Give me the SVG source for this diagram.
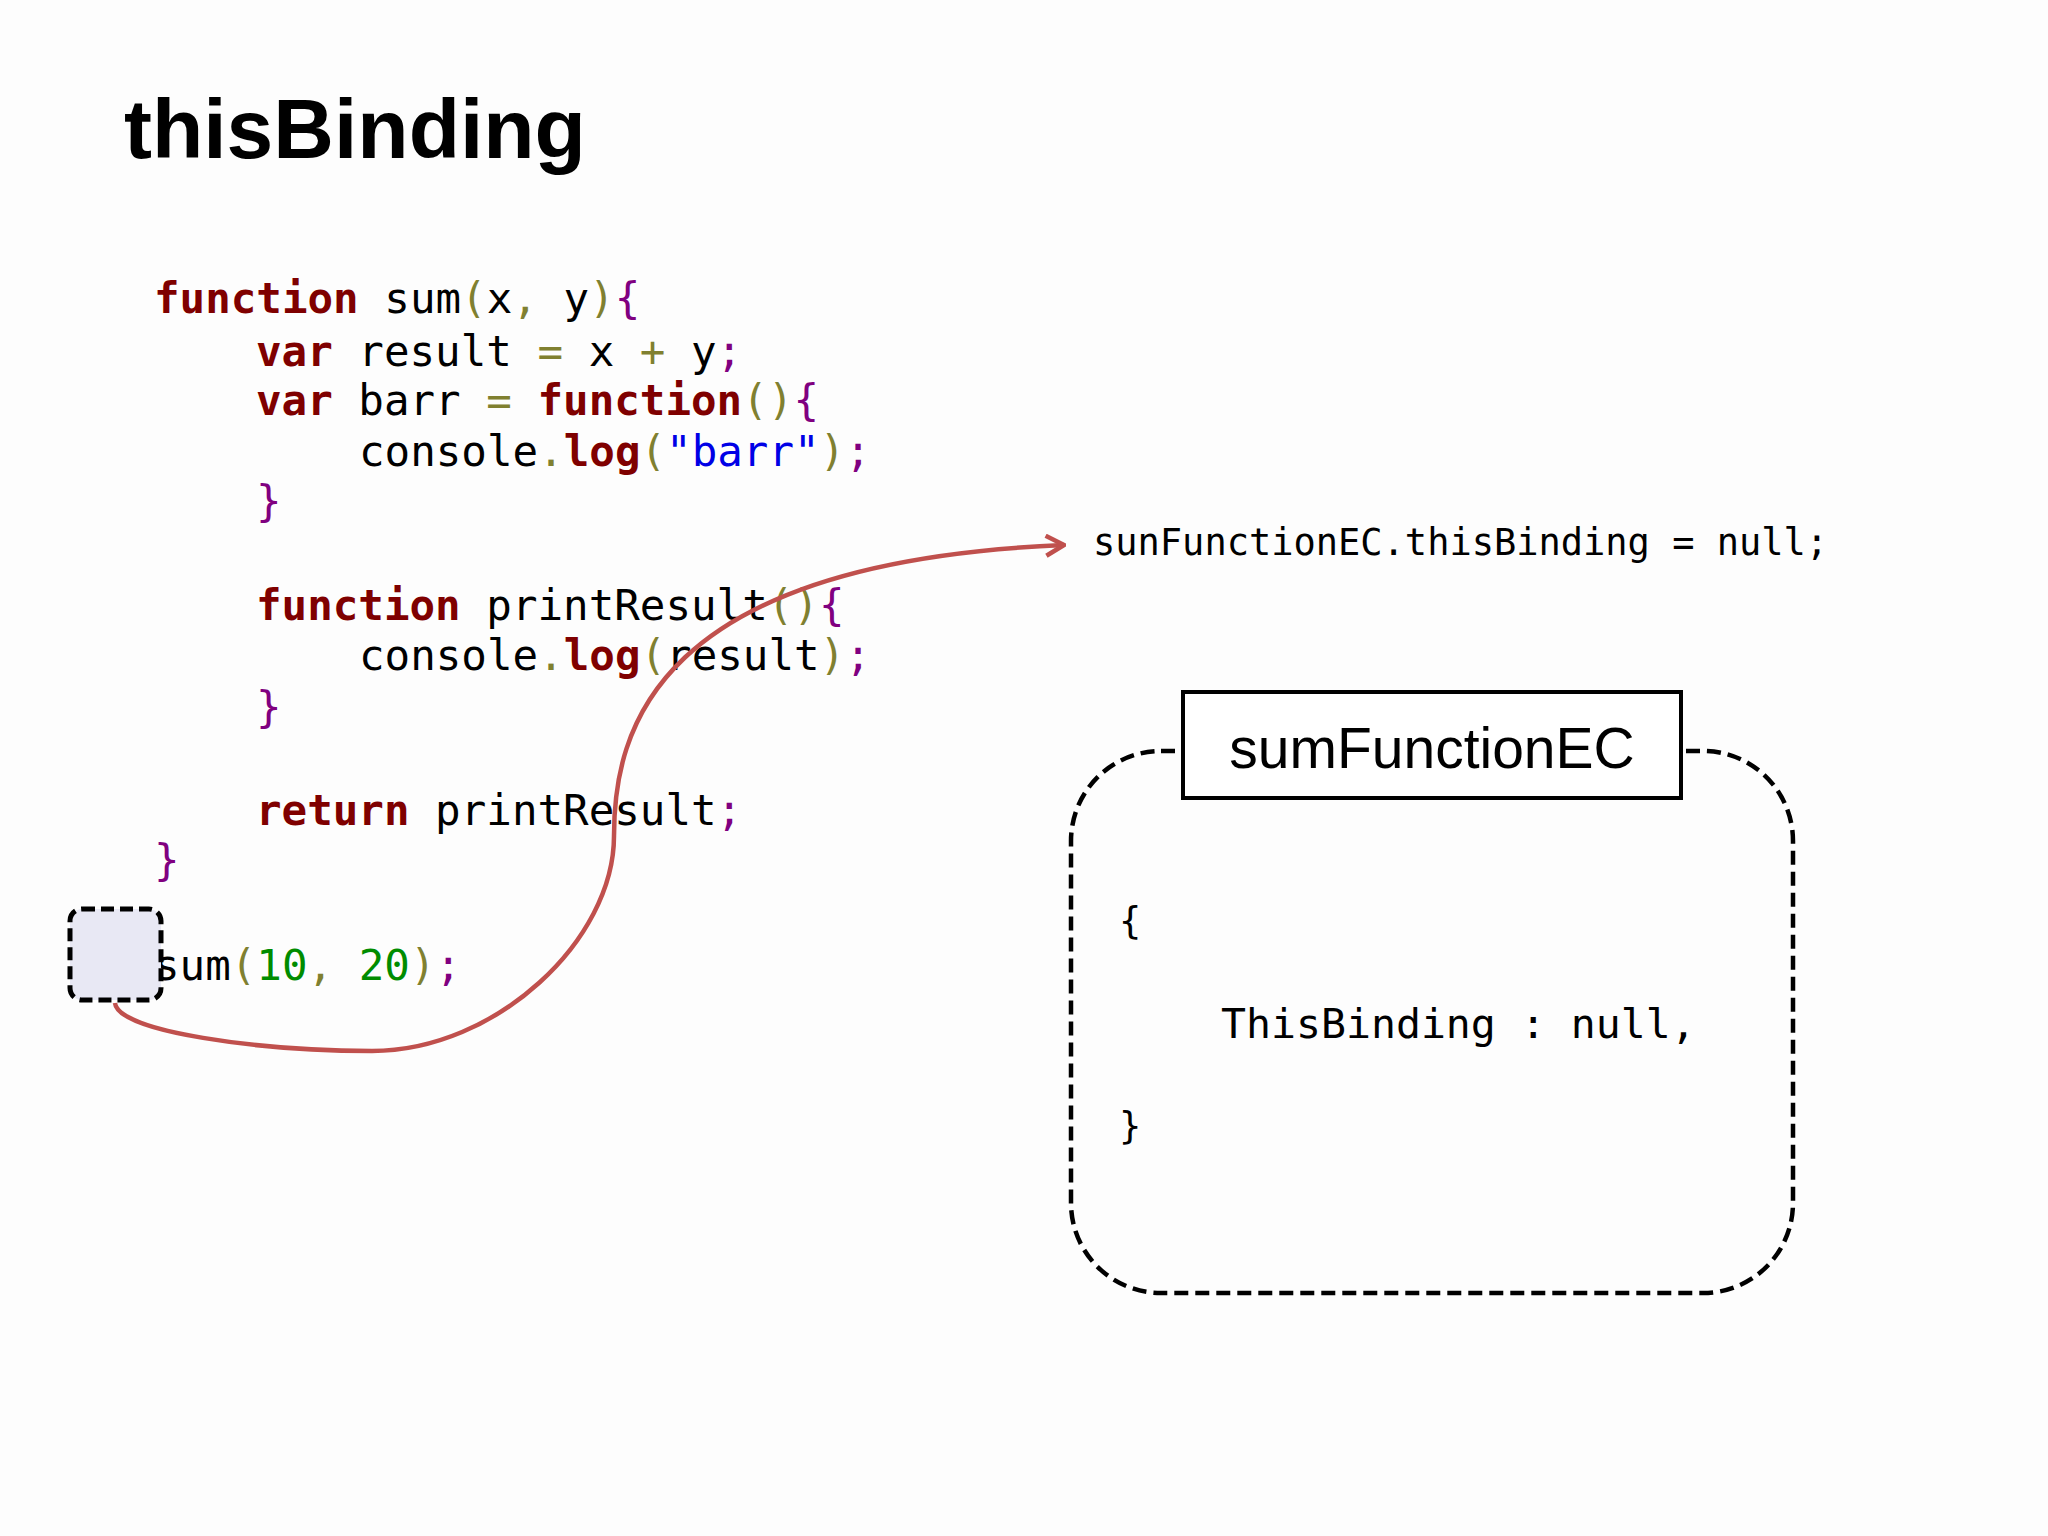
<svg xmlns="http://www.w3.org/2000/svg" width="2048" height="1536" viewBox="0 0 2048 1536">
<style>
.c{font-family:"DejaVu Sans Mono",monospace;font-size:42.5px;fill:#000;white-space:pre}
.k{fill:#7f0000;font-weight:bold}
.p{fill:#808030}
.b{fill:#800080}
.s{fill:#0000e6}
.n{fill:#008c00}
.m{font-family:"DejaVu Sans Mono",monospace;font-size:37px;fill:#000;white-space:pre}
</style>
<defs>
<marker id="ah" viewBox="-2 -2 24 24" refX="20" refY="10" markerWidth="24" markerHeight="24" orient="auto" markerUnits="userSpaceOnUse">
<path d="M2,0 L20,10 L2,20" fill="none" stroke="#c0504d" stroke-width="4.5"/>
</marker>
</defs>
<rect width="2048" height="1536" fill="#fdfdfd"/>
<text x="124" y="158" font-family="Liberation Sans,Arial,sans-serif" font-weight="bold" font-size="84">thisBinding</text>
<g id="code">
<text class="c" x="154" y="313"><tspan class="k">function</tspan> sum<tspan class="p">(</tspan>x<tspan class="p">,</tspan> y<tspan class="p">)</tspan><tspan class="b">{</tspan></text>
<text class="c" x="256" y="366"><tspan class="k">var</tspan> result <tspan class="p">=</tspan> x <tspan class="p">+</tspan> y<tspan class="b">;</tspan></text>
<text class="c" x="256" y="415"><tspan class="k">var</tspan> barr <tspan class="p">=</tspan> <tspan class="k">function</tspan><tspan class="p">()</tspan><tspan class="b">{</tspan></text>
<text class="c" x="359" y="466">console<tspan class="p">.</tspan><tspan class="k">log</tspan><tspan class="p">(</tspan><tspan class="s">"barr"</tspan><tspan class="p">)</tspan><tspan class="b">;</tspan></text>
<text class="c" x="256" y="516"><tspan class="b">}</tspan></text>
<text class="c" x="256" y="620"><tspan class="k">function</tspan> printResult<tspan class="p">()</tspan><tspan class="b">{</tspan></text>
<text class="c" x="359" y="670">console<tspan class="p">.</tspan><tspan class="k">log</tspan><tspan class="p">(</tspan>result<tspan class="p">)</tspan><tspan class="b">;</tspan></text>
<text class="c" x="256" y="722"><tspan class="b">}</tspan></text>
<text class="c" x="256" y="825"><tspan class="k">return</tspan> printResult<tspan class="b">;</tspan></text>
<text class="c" x="154" y="875"><tspan class="b">}</tspan></text>
<text class="c" x="154" y="980">sum<tspan class="p">(</tspan><tspan class="n">10</tspan><tspan class="p">,</tspan> <tspan class="n">20</tspan><tspan class="p">)</tspan><tspan class="b">;</tspan></text>
</g>
<g id="marker-box"><rect x="70" y="909" width="91" height="91" rx="12" fill="#e8e8f4" stroke="#000" stroke-width="5" stroke-dasharray="13,6"/></g>
<g id="ec">
<rect x="1071" y="751" width="722" height="542" rx="90" fill="none" stroke="#000" stroke-width="4.5" stroke-dasharray="14,7"/>
<rect x="1183" y="692" width="498" height="106" fill="#fff" stroke="#000" stroke-width="4"/>
<text x="1432" y="768" text-anchor="middle" font-family="Liberation Sans,Arial,sans-serif" font-size="57">sumFunctionEC</text>
<text class="m" x="1119" y="934" font-size="41">{</text>
<text class="m" x="1221" y="1038" style="font-size:41.5px">ThisBinding : null,</text>
<text class="m" x="1119" y="1139" font-size="41">}</text>
</g>
<g id="label"><text class="m" x="1093" y="555">sunFunctionEC.thisBinding = null;</text></g>
<g id="connectors">
<path d="M115,1003 C118,1032 261,1051 372,1051 C496,1051 614,940 614,836 C614,731 653,562 1064,545" fill="none" stroke="#c0504d" stroke-width="4.5" marker-end="url(#ah)"/>
</g>
</svg>
